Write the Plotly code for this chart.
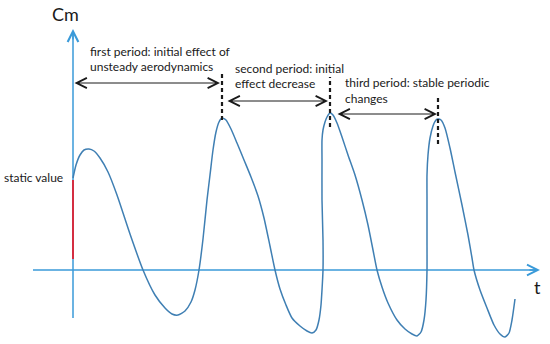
import plotly.graph_objects as go

# Cm(t) response curve (schematic), t measured from the Cm axis, Cm from the t axis
t_vals = [0, 3, 7, 11, 16, 21, 27, 35, 44, 57, 70, 82, 92, 99, 105, 112, 118, 122, 126, 130,
          134, 137, 140, 143, 146, 149, 153, 158, 164, 171, 178, 185, 191, 197, 202, 207, 213,
          219, 227, 234, 239, 243, 246, 248, 249, 250, 250, 249, 249, 249, 250, 252, 254, 257,
          260, 264, 269, 275, 282, 289, 295, 300, 304, 309, 315, 324, 332, 339, 344, 348, 351,
          353, 354, 354, 354, 354, 355, 357, 360, 363, 365, 368, 372, 377, 382, 389, 395, 399,
          401, 407, 414, 421, 427, 432, 436, 439, 442]
cm_vals = [92, 105, 115, 120, 121, 119, 112, 98, 75, 36, 0, -25, -38, -44, -45, -41, -32, -20,
           0, 31, 70, 95, 120, 138, 148, 152, 150, 141, 127, 110, 93, 74, 52, 24, 0, -19, -35,
           -48, -56, -61, -63, -60, -50, -35, -20, 0, 30, 70, 110, 130, 140, 148, 153, 157, 155,
           147, 133, 115, 95, 70, 45, 20, 0, -17, -33, -50, -59, -64, -66, -62, -50, -30, 0, 30,
           70, 95, 115, 132, 144, 150, 151, 150, 142, 122, 98, 65, 35, 12, 0, -20, -38, -55, -64,
           -67, -63, -50, -29]

static_cm = [11, 90]          # red "static value" segment on the Cm axis
cm_axis = [-48, 241]          # extent of the Cm axis
t_axis = [-40, 467]           # extent of the t axis
period_bounds = [0, 149, 257, 365]   # t of period boundaries (dashed markers)
dash_top = [199, 193, 174]
dash_bottom = [150, 143, 126]
arrow_levels = [187, 169, 156]
arrow_t0 = [0, 153, 263]
arrow_t1 = [147, 255, 364]
period_text = [["first period: initial effect of", "unsteady aerodynamics"],
               ["second period: initial", "effect decrease"],
               ["third period: stable periodic", "changes"]]
text_t = [15, 160, 270]
text_cm = [[219, 204], [202, 187], [188, 172]]

CURVE = "#3f7fb3"
AXIS = "#3a9ad9"
RED = "#e02030"
INK = "#1a1a1a"
FONT = "Lato"

fig = go.Figure()
fig.add_trace(go.Scatter(x=t_vals, y=cm_vals, mode="lines",
                         line=dict(color=CURVE, width=1.5, shape="spline", smoothing=0.6),
                         hoverinfo="skip"))
fig.add_trace(go.Scatter(x=[0, 0], y=static_cm, mode="lines",
                         line=dict(color=RED, width=1.8), hoverinfo="skip"))

shapes = []
# axis lines (below traces so the red segment shows on top)
shapes.append(dict(type="line", xref="x", yref="y", x0=0, x1=0, y0=cm_axis[0],
                   y1=cm_axis[1] - 2, layer="below", line=dict(color=AXIS, width=1.5)))
shapes.append(dict(type="line", xref="x", yref="y", x0=t_axis[0], x1=t_axis[1] - 2,
                   y0=0, y1=0, layer="below", line=dict(color=AXIS, width=1.5)))
for i in range(3):
    shapes.append(dict(type="line", xref="x", yref="y", x0=period_bounds[i + 1],
                       x1=period_bounds[i + 1], y0=dash_bottom[i], y1=dash_top[i],
                       line=dict(color=INK, width=2.2, dash="4px,3px")))

ann = []
# axis arrowheads
ann.append(dict(x=0, y=cm_axis[1], ax=0, ay=cm_axis[1] - 12, xref="x", yref="y",
                axref="x", ayref="y", showarrow=True, arrowhead=5, arrowsize=1.4,
                arrowwidth=1.5, arrowcolor=AXIS, standoff=0, text=""))
ann.append(dict(x=t_axis[1], y=0, ax=t_axis[1] - 12, ay=0, xref="x", yref="y",
                axref="x", ayref="y", showarrow=True, arrowhead=5, arrowsize=1.4,
                arrowwidth=1.5, arrowcolor=AXIS, standoff=0, text=""))
ann.append(dict(x=-8, y=256, text="Cm", showarrow=False, xanchor="center", yanchor="middle",
                font=dict(family=FONT, size=18, color=INK)))
ann.append(dict(x=464, y=-17, text="t", showarrow=False, xanchor="center", yanchor="middle",
                font=dict(family=FONT, size=18, color=INK)))
ann.append(dict(x=-8, y=93, text="static value", showarrow=False, xanchor="right",
                yanchor="middle", font=dict(family=FONT, size=12, color=INK)))

for i in range(3):
    ann.append(dict(x=arrow_t1[i], y=arrow_levels[i], ax=arrow_t0[i], ay=arrow_levels[i],
                    xref="x", yref="y", axref="x", ayref="y", showarrow=True,
                    arrowside="end+start", arrowhead=5, startarrowhead=5,
                    arrowsize=2, startarrowsize=2, arrowwidth=1, arrowcolor=INK,
                    standoff=0, startstandoff=0, text=""))
    for line, ycm in zip(period_text[i], text_cm[i]):
        ann.append(dict(x=text_t[i], y=ycm, text=line, showarrow=False, xanchor="left",
                        yanchor="middle", font=dict(family=FONT, size=12, color=INK)))

fig.update_layout(width=550, height=344, margin=dict(l=0, r=0, t=0, b=0),
                  paper_bgcolor="white", plot_bgcolor="white", showlegend=False,
                  annotations=ann, shapes=shapes,
                  xaxis=dict(range=[-73, 477], visible=False, fixedrange=True),
                  yaxis=dict(range=[-74, 270], visible=False, fixedrange=True))

fig.write_html("out.html", post_script="document.body.style.margin='0';",
               config={"displayModeBar": False})
